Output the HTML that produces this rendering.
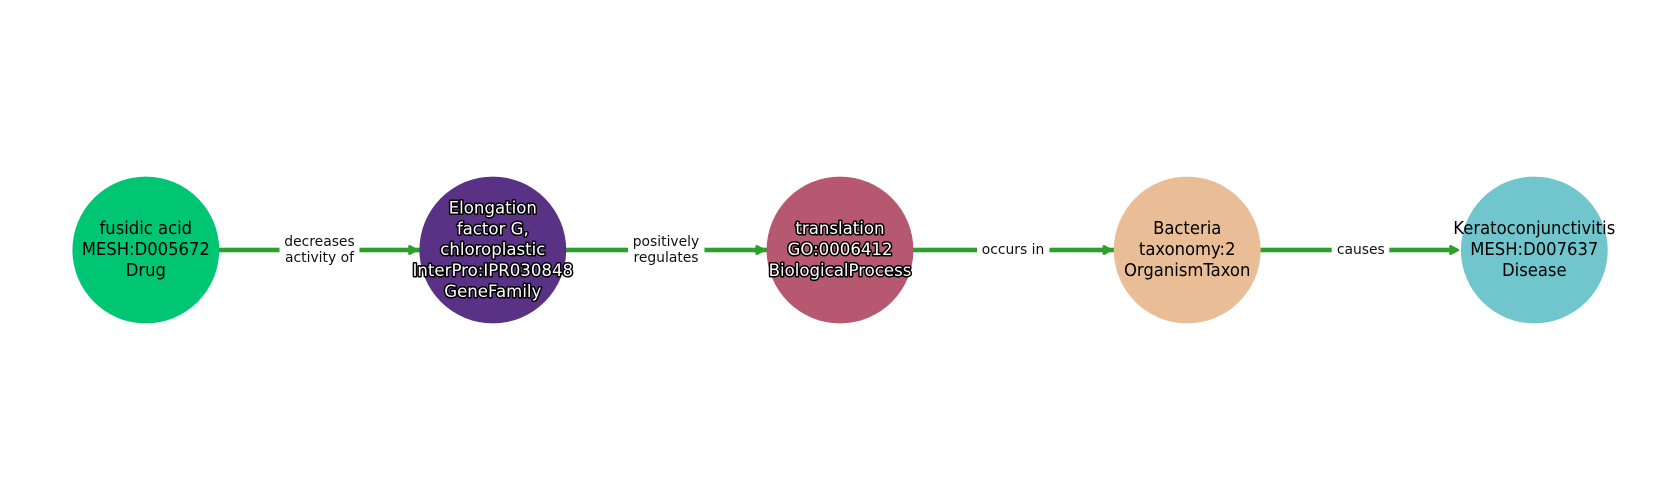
<!DOCTYPE html>
<html>
<head>
<meta charset="utf-8">
<style>
html,body{margin:0;padding:0;background:#fff;width:1680px;height:500px;overflow:hidden}
svg{display:block}
text{font-family:"DejaVu Sans","Liberation Sans",sans-serif;text-anchor:middle}
.n{font-size:16.67px;fill:#000}
.w{font-size:16.67px;fill:#fff;stroke:#000;stroke-width:3px;paint-order:stroke fill;stroke-linejoin:round}
.e{font-size:13.89px;fill:#111}
</style>
</head>
<body>
<svg width="1680" height="500" viewBox="0 0 1680 500" xmlns="http://www.w3.org/2000/svg">
<rect width="1680" height="500" fill="#fff"/>
<g fill="#2ca02c">
<rect x="219" y="247.700" width="1232" height="4.600"/>
</g>
<g fill="#2ca02c" stroke="#2ca02c" stroke-width="2.600" stroke-linejoin="round">
<path d="M409.500 246.300L416.800 250L409.500 253.700z"/>
<path d="M756.700 246.300L764 250L756.700 253.700z"/>
<path d="M1103.900 246.300L1111.200 250L1103.900 253.700z"/>
<path d="M1450.500 246.300L1457.800 250L1450.500 253.700z"/>
</g>
<g fill="#fff">
<rect x="279.500" y="240" width="80" height="20"/>
<rect x="628" y="240" width="76.500" height="20"/>
<rect x="977" y="240" width="72.500" height="20"/>
<rect x="1331.700" y="240" width="57.600" height="20"/>
</g>
<circle cx="145.800" cy="250" r="73.400" fill="#00c573"/>
<circle cx="492.800" cy="250" r="73.400" fill="#5a3285"/>
<circle cx="840" cy="250" r="73.400" fill="#b55870"/>
<circle cx="1187.200" cy="250" r="73.400" fill="#e9be97"/>
<circle cx="1534.300" cy="250" r="73.400" fill="#70c6cc"/>
<text class="n" transform="translate(145.800 234) scale(.985 1.04)">fusidic acid</text>
<text class="n" transform="translate(145.800 255) scale(.985 1.04)">MESH:D005672</text>
<text class="n" transform="translate(145.800 276) scale(.985 1.04)">Drug</text>
<text class="w" transform="translate(492.800 213.500) scale(.995 1.03)">Elongation</text>
<text class="w" transform="translate(492.800 234.500) scale(.995 1.03)">factor G,</text>
<text class="w" transform="translate(492.800 255) scale(.995 1.03)">chloroplastic</text>
<text class="w" transform="translate(492.800 276) scale(.995 1.03)">InterPro:IPR030848</text>
<text class="w" transform="translate(492.800 297) scale(.995 1.03)">GeneFamily</text>
<text class="w" transform="translate(840 234) scale(.995 1.03)">translation</text>
<text class="w" transform="translate(840 255) scale(.995 1.03)">GO:0006412</text>
<text class="w" transform="translate(840 276) scale(.995 1.03)">BiologicalProcess</text>
<text class="n" transform="translate(1187.200 234) scale(.985 1.04)">Bacteria</text>
<text class="n" transform="translate(1187.200 255) scale(.985 1.04)">taxonomy:2</text>
<text class="n" transform="translate(1187.200 276) scale(.985 1.04)">OrganismTaxon</text>
<text class="n" transform="translate(1534.300 234) scale(.985 1.04)">Keratoconjunctivitis</text>
<text class="n" transform="translate(1534.300 255) scale(.985 1.04)">MESH:D007637</text>
<text class="n" transform="translate(1534.300 276) scale(.985 1.04)">Disease</text>
<text class="e" x="319.500" y="246">decreases</text>
<text class="e" x="319.500" y="262">activity of</text>
<text class="e" x="666" y="246">positively</text>
<text class="e" x="666" y="262">regulates</text>
<text class="e" x="1013" y="254">occurs in</text>
<text class="e" x="1360.800" y="254">causes</text>
</svg>
</body>
</html>
